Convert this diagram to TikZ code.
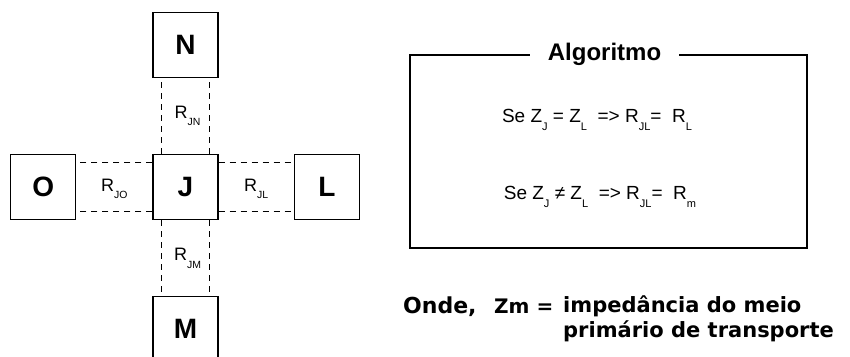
\documentclass[tikz,border=0pt]{standalone}
\usepackage{fontspec}
\setmainfont{Liberation Sans}
\newfontfamily\notefont{DejaVu Sans}
\usetikzlibrary{positioning,calc}

% low, small index as in R_JL
\newcommand{\sub}[1]{\raisebox{-0.42em}{\scalebox{0.58}{#1}}}

\begin{document}
\begin{tikzpicture}[x=1pt,y=-1pt,
  box/.style={draw,line width=1.3pt,minimum size=65pt,inner sep=0pt,
    font=\fontsize{28}{28}\selectfont\bfseries},
  link/.style={dash pattern=on 6pt off 5pt,line width=1pt},
  rlabel/.style={font=\fontsize{18}{18}\selectfont},
  rule/.style={font=\fontsize{19}{19}\selectfont}]
  \clip (0,0) rectangle (850,356);

  % the five cells
  \node[box] (J) at (185.5,187) {J};
  \node[box,above=76pt of J] (N) {N};
  \node[box,below=76pt of J] (M) {M};
  \node[box,left=76pt of J] (O) {O};
  \node[box,right=75pt of J] (L) {L};

  % dashed links between J and its neighbours
  \draw[link] ([xshift=9pt]J.north west) -- ([xshift=9pt]N.south west);
  \draw[link] ([xshift=-9pt]J.north east) -- ([xshift=-9pt]N.south east);
  \draw[link] ([xshift=9pt]J.south west) -- ([xshift=9pt]M.north west);
  \draw[link] ([xshift=-9pt]J.south east) -- ([xshift=-9pt]M.north east);
  \draw[link] ([yshift=-9pt]J.north west) -- ([yshift=-9pt]O.north east);
  \draw[link] ([yshift=9pt]J.south west) -- ([yshift=9pt]O.south east);
  \draw[link] ([yshift=-9pt]J.north east) -- ([yshift=-9pt]L.north west);
  \draw[link] ([yshift=9pt]J.south east) -- ([yshift=9pt]L.south west);

  \node[rlabel] (rjn) at ($(J)!0.5!(N)+(2,0)$) {R\sub{JN}};
  \node[rlabel] (rjm) at ($(J)!0.5!(M)+(2,0)$) {R\sub{JM}};
  \node[rlabel] (rjo) at ($(J)!0.5!(O)+(0,2)$) {R\sub{JO}};
  \node[rlabel] (rjl) at ($(J)!0.5!(L)+(0,2)$) {R\sub{JL}};

  % algorithm frame
  \node[draw,line width=1.3pt,minimum width=397pt,minimum height=193pt] (alg) at (608.5,151.5) {};
  \node[fill=white,inner xsep=18pt,font=\fontsize{24}{24}\selectfont\bfseries] (algtitle)
    at ([xshift=-4pt]alg.north) {Algoritmo};
  \node[rule] (rule1) at (597,120) {Se Z\sub{J} = Z\sub{L}\ \ => R\sub{JL}=\ \ R\sub{L}};
  \node[rule] (rule2) at (600,197) {Se Z\sub{J} ≠ Z\sub{L}\ \ => R\sub{JL}=\ \ R\sub{m}};

  % note below the frame
  \node[anchor=base west,inner sep=0pt,font=\notefont\fontsize{22}{22}\selectfont\bfseries]
    (onde) at (403,313) {Onde,};
  \node[anchor=base west,inner sep=0pt,font=\notefont\fontsize{20}{20}\selectfont\bfseries]
    (zm) at (494,313) {Zm =};
  \node[anchor=north west,inner sep=0pt,align=left,
    font=\notefont\fontsize{21}{25}\selectfont\bfseries]
    (defn) at (563,295) {impedância do meio\\primário de transporte};
\end{tikzpicture}
\end{document}
